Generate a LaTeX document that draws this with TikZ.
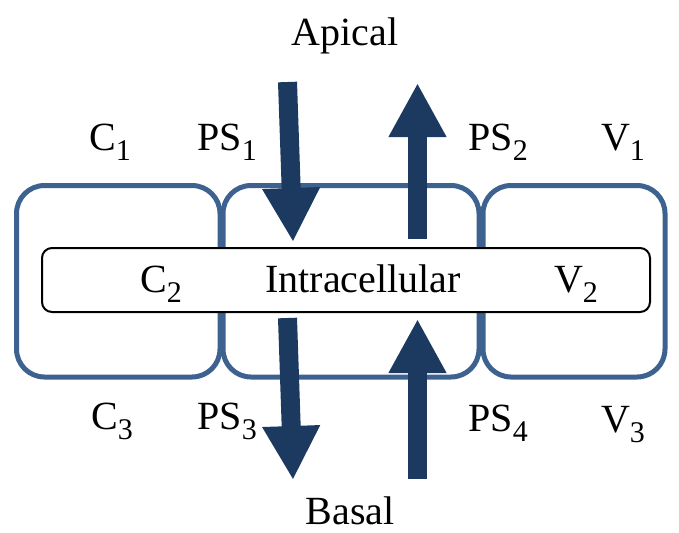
\documentclass[tikz,border=0pt]{standalone}
\usepackage{fontspec}
\setmainfont{Liberation Serif}
\usepackage{tikz}
\usetikzlibrary{arrows.meta}
\definecolor{cellblue}{RGB}{62, 98, 144}
\definecolor{fluxnavy}{RGB}{28, 58, 96}
\newcommand{\lowsub}[1]{\raisebox{-5pt}{\fontsize{15}{15}\selectfont #1}}

\begin{document}
\begin{tikzpicture}[
        x=0.5pt, y=-0.5pt,
        font=\fontsize{20}{24}\selectfont,
        cell/.style={draw=cellblue, line width=2.5pt, rounded corners=14pt, minimum height=95.75pt, inner sep=0pt},
        membrane/.style={draw=black, line width=1pt, fill=white, rounded corners=5pt, minimum width=304pt, minimum height=32pt, inner sep=0pt},
        lbl/.style={anchor=base, inner sep=0pt},
        flux/.style={-{Triangle[width=27pt,length=27pt]}, line width=9.5pt, fluxnavy}
    ]
        \useasboundingbox (0,0) rectangle (679,532);

        % cells
        \node[cell, minimum width=101.75pt] (cleft) at (118.25,281.25) {};
        \node[cell, minimum width=128pt] (cmid) at (351,281.25) {};
        \node[cell, minimum width=91pt] (cright) at (574,281.25) {};
        \node[membrane] (intra) at (346,280) {};

        % labels
        \node[lbl] (apical) at (345,45) {Apical};
        \node[lbl] (basal) at (350,524) {Basal};
        \node[lbl] (c1) at (110,150) {C\lowsub{1}};
        \node[lbl] (ps1) at (227,150) {PS\lowsub{1}};
        \node[lbl] (ps2) at (498,150) {PS\lowsub{2}};
        \node[lbl] (v1) at (623,150) {V\lowsub{1}};
        \node[lbl] (c2) at (161,292) {C\lowsub{2}};
        \node[lbl] (intratext) at (363,292) {Intracellular};
        \node[lbl] (v2) at (576,292) {V\lowsub{2}};
        \node[lbl] (c3) at (112,429) {C\lowsub{3}};
        \node[lbl] (ps3) at (227,429) {PS\lowsub{3}};
        \node[lbl] (ps4) at (498,431) {PS\lowsub{4}};
        \node[lbl] (v3) at (623,432) {V\lowsub{3}};

        % arrow ends
        \coordinate (inA) at (287.5,82);
        \coordinate (inB) at (293,242);
        \coordinate (outA) at (417.5,239);
        \coordinate (outB) at (417.5,83);
        \coordinate (downA) at (287.5,318);
        \coordinate (downB) at (293,480);
        \coordinate (upA) at (417.5,479);
        \coordinate (upB) at (417.5,319);

        \draw[flux] (inA) -- (inB);
        \draw[flux] (outA) -- (outB);
        \draw[flux] (downA) -- (downB);
        \draw[flux] (upA) -- (upB);
    \end{tikzpicture}
\end{document}
